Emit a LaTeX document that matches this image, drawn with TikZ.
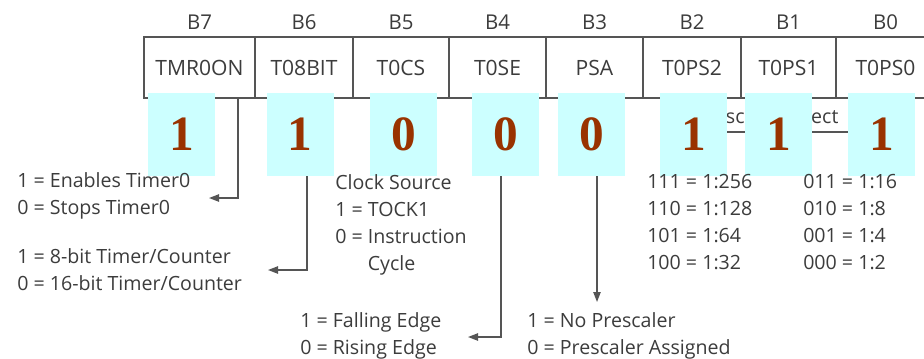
\documentclass[tikz,border=0pt]{standalone}
\usepackage{fontspec}
\setmainfont{Open Sans}
\newfontfamily\digitfont{Liberation Serif}
\usetikzlibrary{arrows.meta}
\definecolor{ink}{HTML}{3C3C3C}
\definecolor{rulegray}{HTML}{555555}
\definecolor{cellbg}{HTML}{CCFFFF}
\definecolor{bitval}{HTML}{993300}
\begin{document}
\begin{tikzpicture}[x=0.75pt,y=-0.75pt,
  regcell/.style={draw=rulegray, line width=1pt, minimum height=61*0.75pt,
    inner sep=0pt, text=ink, font=\fontsize{15.8}{18}\selectfont},
  bitname/.style={text=ink, inner sep=0pt, font=\fontsize{15.3}{18}\selectfont},
  valbox/.style={fill=cellbg, minimum width=67*0.75pt, minimum height=83*0.75pt,
    inner sep=0pt, text=bitval, font=\digitfont\bfseries\fontsize{37}{40}\selectfont},
  desc/.style={anchor=base west, inner sep=0pt, align=left, text=ink,
    font=\fontsize{14.7}{20.25}\selectfont},
  conn/.style={draw=rulegray, line width=1pt},
  arr/.style={conn, -{Triangle[length=7.5pt,width=5.5pt]}}]
\useasboundingbox (0,0) rectangle (924,358);
\fill[white] (0,0) rectangle (924,358);
\begin{scope}
\clip (0,0) rectangle (924,358);

% register cells, B7 (left) to B0 (right)
\node[regcell, minimum width=111*0.75pt] (r7) at (199.5,67.5) {TMR0ON};
\node[regcell, minimum width=98*0.75pt]  (r6) at (304,67.5)   {T08BIT};
\node[regcell, minimum width=96*0.75pt]  (r5) at (401,67.5)   {T0CS};
\node[regcell, minimum width=97*0.75pt]  (r4) at (497.5,67.5) {T0SE};
\node[regcell, minimum width=97*0.75pt]  (r3) at (594.5,67.5) {PSA};
\node[regcell, minimum width=98*0.75pt]  (r2) at (692,67.5)   {T0PS2};
\node[regcell, minimum width=95*0.75pt]  (r1) at (788.5,67.5) {T0PS1};
\node[regcell, minimum width=99*0.75pt]  (r0) at (885.5,67.5) {T0PS0};

% bit numbers
\foreach \b in {7,...,0}
  \node[bitname] (b\b) at (r\b.center |- 0,22) {B\b};

% prescaler select label with the rule beneath it
\node[text=ink, inner sep=0pt, font=\fontsize{14.7}{17}\selectfont] (ps) at (767,116) {Prescaler Select};
\coordinate (psl) at (690,132);
\coordinate (psr) at (890,132);
\draw[conn] (psl) -- (psr);

% connector start points under the register
\coordinate (s7) at (238,98);
\coordinate (s6) at (307,98);
\coordinate (s4) at (501,98);
\coordinate (s3) at (597,98);
% connector end points beside the descriptions
\coordinate (e7) at (209,198);
\coordinate (e6) at (268,270);
\coordinate (e4) at (468,337);
\coordinate (e3) at (597,302);

\draw[arr] (s7) |- (e7);
\draw[arr] (s6) |- (e6);
\draw[arr] (s4) |- (e4);
\draw[arr] (s3) -- (e3);

% bit values
\node[valbox] (v7) at (181.5,134.5) {1};
\node[valbox] (v6) at (300,134.5)   {1};
\node[valbox] (v5) at (403.5,134.5) {0};
\node[valbox] (v4) at (505.5,134.5) {0};
\node[valbox] (v3) at (591.5,134.5) {0};
\node[valbox] (v2) at (693.5,134.5) {1};
\node[valbox] (v1) at (778.5,134.5) {1};
\node[valbox] (v0) at (881.5,134.5) {1};

% descriptions (placed by the baseline of their last line)
\node[desc] (d7) at (17,214) {1 = Enables Timer0\\0 = Stops Timer0};
\node[desc] (d6) at (17,290) {1 = 8-bit Timer/Counter\\0 = 16-bit Timer/Counter};
\node[desc] (d5) at (335,270) {Clock Source\\1 = TOCK1\\0 = Instruction\\\hphantom{0 =\ }Cycle};
\node[desc] (d4) at (300,354) {1 = Falling Edge\\0 = Rising Edge};
\node[desc] (d3) at (527,354) {1 = No Prescaler\\0 = Prescaler Assigned};
\node[desc] (d2) at (647,269) {111 = 1:256\\110 = 1:128\\101 = 1:64\\100 = 1:32};
\node[desc] (d1) at (803,269) {011 = 1:16\\010 = 1:8\\001 = 1:4\\000 = 1:2};
\end{scope}
\end{tikzpicture}
\end{document}
